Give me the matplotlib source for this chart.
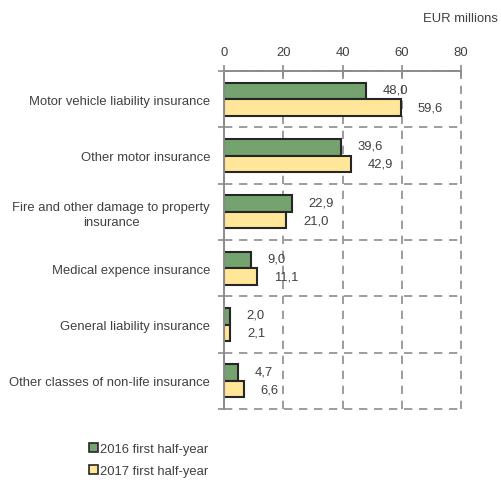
import numpy as np
import matplotlib.pyplot as plt
from matplotlib.patches import Patch

plt.rcParams['font.family'] = ['Liberation Sans', 'DejaVu Sans']
fs = 9.4

categories = ['Motor vehicle liability insurance',
              'Other motor insurance',
              'Fire and other damage to property\ninsurance',
              'Medical expence insurance',
              'General liability insurance',
              'Other classes of non-life insurance']
h2016 = [48.0, 39.6, 22.9, 9.0, 2.0, 4.7]
h2017 = [59.6, 42.9, 21.0, 11.1, 2.1, 6.6]
series_names = ['2016 first half-year', '2017 first half-year']

green = '#74a36f'
yellow = '#ffe699'
edge = '#262626'
txt = '#404040'
gridc = '#8c8c8c'

fig = plt.figure(figsize=(5.01, 4.81), dpi=100)
ax = fig.add_axes([224/501, 71/481, 237/501, 338/481])

y = np.arange(len(categories))
bh = 0.29
ax.barh(y - bh/2, h2016, height=bh, color=green, edgecolor=edge, linewidth=1.5, zorder=3)
ax.barh(y + bh/2, h2017, height=bh, color=yellow, edgecolor=edge, linewidth=1.5, zorder=3)

def fmt(v):
    return f'{v:.1f}'.replace('.', ',')

for yi, a, b in zip(y, h2016, h2017):
    ax.annotate(fmt(a), (a, yi - bh/2), xytext=(12, 1), textcoords='offset points',
                va='center', ha='left', color=txt, fontsize=fs, zorder=4)
    ax.annotate(fmt(b), (b, yi + bh/2), xytext=(12, 0), textcoords='offset points',
                va='center', ha='left', color=txt, fontsize=fs, zorder=4)

ax.set_xlim(0, 80)
ax.set_ylim(len(categories) - 0.5, -0.5)

# x axis on top
ax.xaxis.tick_top()
ax.set_xticks([0, 20, 40, 60, 80])
ax.tick_params(axis='x', direction='inout', length=8, width=1.2, color=gridc,
               labelsize=fs, labelcolor=txt, pad=5)

# category labels, separators on minor ticks
ax.set_yticks(y)
ax.set_yticklabels(categories, ha='right', multialignment='center', linespacing=1.25)
ax.tick_params(axis='y', which='major', length=0, labelsize=fs, labelcolor=txt, pad=10)
ax.set_yticks(np.arange(-0.5, len(categories)), minor=True)
ax.tick_params(axis='y', which='minor', length=4, width=1.2, color=gridc, direction='out')

ax.grid(axis='x', which='major', color=gridc, linestyle=(0, (5, 4)), linewidth=1.2, zorder=0)
ax.grid(axis='y', which='minor', color=gridc, linestyle=(0, (5, 4)), linewidth=1.2, zorder=0)
for t in ax.xaxis.get_major_ticks() + ax.yaxis.get_minor_ticks():
    t.gridline.set_clip_on(False)

for s in ['right', 'bottom']:
    ax.spines[s].set_visible(False)
for s in ['top', 'left']:
    ax.spines[s].set_color(gridc)
    ax.spines[s].set_linewidth(1.4)
    ax.spines[s].set_zorder(5)

fig.text(498/501, 1 - 19/481, 'EUR millions', ha='right', va='center', color=txt, fontsize=fs)

handles = [Patch(facecolor=green, edgecolor=edge, linewidth=1.2),
           Patch(facecolor=yellow, edgecolor=edge, linewidth=1.2)]
fig.legend(handles, series_names, loc='upper left', bbox_to_anchor=(84/501, 1 - 439/481),
           frameon=False, handlelength=0.65, handleheight=0.65, handletextpad=0.2,
           labelspacing=0.75, fontsize=fs, labelcolor=txt, borderaxespad=0)

fig.savefig('out.png', dpi=100)
